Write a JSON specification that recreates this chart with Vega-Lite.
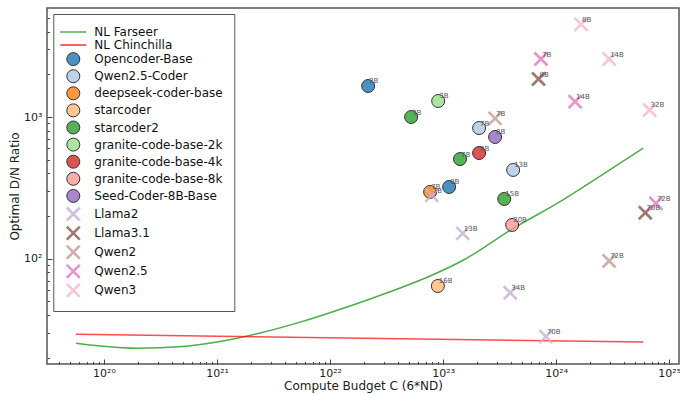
{
  "$schema": "https://vega.github.io/schema/vega-lite/v6.json",
  "width": 632,
  "height": 356,
  "autosize": "none",
  "padding": {"left": 47, "top": 8, "right": 1, "bottom": 30},
  "background": "white",
  "config": {
    "view": {"stroke": "#555", "strokeWidth": 1.5},
    "font": "DejaVu Sans",
    "axis": {
      "domain": false, "grid": false, "tickColor": "#444", "tickWidth": 1,
      "labelColor": "#222", "titleColor": "#222", "labelFont": "DejaVu Sans", "titleFont": "DejaVu Sans",
      "titleFontWeight": "normal", "labelFontSize": 11, "titleFontSize": 12
    },
    "legend": {
      "orient": "none", "legendX": 6.3, "legendY": 6, "padding": 11, "strokeColor": "#555", "fillColor": "white",
      "cornerRadius": 0, "labelFont": "DejaVu Sans", "labelFontSize": 12, "labelColor": "#111",
      "symbolSize": 169, "symbolStrokeWidth": 1, "symbolOpacity": 0.8, "rowPadding": -0.9,
      "labelOffset": 14, "symbolOffset": 2, "labelLimit": 300
    }
  },
  "datasets": {
    "farseer": [
      {"C": 5.65e19, "ratio": 25.3}, {"C": 9.23e19, "ratio": 24.2}, {"C": 1.96e20, "ratio": 23.3},
      {"C": 5.0e20, "ratio": 24.0}, {"C": 1.0e21, "ratio": 25.8}, {"C": 2.4e21, "ratio": 29.9},
      {"C": 5.43e21, "ratio": 35.7}, {"C": 1.18e22, "ratio": 43.5}, {"C": 2.26e22, "ratio": 52.0},
      {"C": 4.16e22, "ratio": 62.1}, {"C": 7.67e22, "ratio": 75.5}, {"C": 1.5e23, "ratio": 97.5},
      {"C": 4.08e23, "ratio": 162}, {"C": 1.13e24, "ratio": 258},
      {"C": 2.21e24, "ratio": 363}, {"C": 5.89e24, "ratio": 604}
    ],
    "chinchilla": [
      {"C": 5.65e19, "ratio": 29.3}, {"C": 5.89e24, "ratio": 25.8}
    ],
    "points": [
      {"series": "Opencoder-Base", "C": 2.17e22, "ratio": 1655, "label": "2B"},
      {"series": "Opencoder-Base", "C": 1.13e23, "ratio": 321, "label": "8B"},
      {"series": "Qwen2.5-Coder", "C": 2.08e23, "ratio": 836, "label": "7B"},
      {"series": "Qwen2.5-Coder", "C": 4.16e23, "ratio": 423, "label": "13B"},
      {"series": "deepseek-coder-base", "C": 7.67e22, "ratio": 296, "label": "7B"},
      {"series": "starcoder", "C": 8.98e22, "ratio": 64.2, "label": "16B"},
      {"series": "starcoder2", "C": 5.21e22, "ratio": 1000, "label": "3B"},
      {"series": "starcoder2", "C": 1.41e23, "ratio": 505, "label": "7B"},
      {"series": "starcoder2", "C": 3.47e23, "ratio": 264, "label": "15B"},
      {"series": "granite-code-base-2k", "C": 9.04e22, "ratio": 1297, "label": "3B"},
      {"series": "granite-code-base-4k", "C": 2.08e23, "ratio": 557, "label": "8B"},
      {"series": "granite-code-base-8k", "C": 4.08e23, "ratio": 173, "label": "20B"},
      {"series": "Seed-Coder-8B-Base", "C": 2.88e23, "ratio": 723, "label": "8B"},
      {"series": "Llama2", "C": 7.94e22, "ratio": 280, "label": "7B"},
      {"series": "Llama2", "C": 1.49e23, "ratio": 151, "label": "13B"},
      {"series": "Llama2", "C": 3.92e23, "ratio": 57.5, "label": "34B"},
      {"series": "Llama2", "C": 8.11e23, "ratio": 28.2, "label": "70B"},
      {"series": "Llama3.1", "C": 6.98e23, "ratio": 1854, "label": "8B"},
      {"series": "Llama3.1", "C": 6.14e24, "ratio": 211, "label": "70B"},
      {"series": "Qwen2", "C": 2.88e23, "ratio": 979, "label": "7B"},
      {"series": "Qwen2", "C": 2.94e24, "ratio": 96.4, "label": "72B"},
      {"series": "Qwen2.5", "C": 7.33e23, "ratio": 2566, "label": "7B"},
      {"series": "Qwen2.5", "C": 1.47e24, "ratio": 1283, "label": "14B"},
      {"series": "Qwen2.5", "C": 7.62e24, "ratio": 246, "label": "72B"},
      {"series": "Qwen3", "C": 1.66e24, "ratio": 4510, "label": "8B"},
      {"series": "Qwen3", "C": 2.94e24, "ratio": 2566, "label": "14B"},
      {"series": "Qwen3", "C": 6.7e24, "ratio": 1121, "label": "32B"}
    ]
  },
  "layer": [
    {
      "data": {"name": "farseer"},
      "mark": {"type": "line", "color": "#2ca02c", "opacity": 0.85, "strokeWidth": 1.5, "interpolate": "monotone"},
      "encoding": {
        "x": {
          "field": "C", "type": "quantitative",
          "scale": {"type": "log", "domain": [3.13e19, 1.22e25], "nice": false},
          "axis": {
            "title": "Compute Budget C (6*ND)",
            "values": [4e19,5e19,6e19,7e19,8e19,9e19,1e20,2e20,3e20,4e20,5e20,6e20,7e20,8e20,9e20,1e21,2e21,3e21,4e21,5e21,6e21,7e21,8e21,9e21,1e22,2e22,3e22,4e22,5e22,6e22,7e22,8e22,9e22,1e23,2e23,3e23,4e23,5e23,6e23,7e23,8e23,9e23,1e24,2e24,3e24,4e24,5e24,6e24,7e24,8e24,9e24,1e25],
            "labelExpr": "datum.value == 1e20 ? '10²⁰' : datum.value == 1e21 ? '10²¹' : datum.value == 1e22 ? '10²²' : datum.value == 1e23 ? '10²³' : datum.value == 1e24 ? '10²⁴' : datum.value == 1e25 ? '10²⁵' : ''",
            "tickSize": {"condition": {"test": "abs(log(datum.value)/LN10 - round(log(datum.value)/LN10)) < 0.001", "value": -5}, "value": -2.5},
            "labelPadding": 8,
            "labelFlush": false,
            "labelOverlap": false,
            "titlePadding": 0
          }
        },
        "y": {
          "field": "ratio", "type": "quantitative",
          "scale": {"type": "log", "domain": [18.07, 5878], "nice": false},
          "axis": {
            "title": "Optimal D/N Ratio",
            "values": [20,30,40,50,60,70,80,90,100,200,300,400,500,600,700,800,900,1000,2000,3000,4000,5000],
            "labelExpr": "datum.value == 100 ? '10²' : datum.value == 1000 ? '10³' : ''",
            "tickSize": {"condition": {"test": "abs(log(datum.value)/LN10 - round(log(datum.value)/LN10)) < 0.001", "value": -5}, "value": -2.5},
            "labelPadding": 10,
            "labelFlush": false,
            "labelOverlap": false,
            "titlePadding": 2
          }
        }
      }
    },
    {
      "data": {"name": "chinchilla"},
      "mark": {"type": "line", "color": "#ff0000", "opacity": 0.7, "strokeWidth": 1.5},
      "encoding": {
        "x": {"field": "C", "type": "quantitative"},
        "y": {"field": "ratio", "type": "quantitative"}
      }
    },
    {
      "data": {"name": "points"},
      "mark": {"type": "point", "filled": true, "opacity": 0.8, "size": 169, "strokeWidth": 1},
      "encoding": {
        "x": {"field": "C", "type": "quantitative"},
        "y": {"field": "ratio", "type": "quantitative"},
        "shape": {
          "field": "series", "type": "nominal", "title": null,
          "scale": {
            "domain": ["NL Farseer","NL Chinchilla","Opencoder-Base","Qwen2.5-Coder","deepseek-coder-base","starcoder","starcoder2","granite-code-base-2k","granite-code-base-4k","granite-code-base-8k","Seed-Coder-8B-Base","Llama2","Llama3.1","Qwen2","Qwen2.5","Qwen3"],
            "range": ["M-2,-0.12L2,-0.12L2,0.12L-2,0.12Z","M-2,-0.12L2,-0.12L2,0.12L-2,0.12Z","circle","circle","circle","circle","circle","circle","circle","circle","circle",
              "M-0.859,-1.141L1.141,0.859L0.859,1.141L-1.141,-0.859ZM-0.859,1.141L-1.141,0.859L0.859,-1.141L1.141,-0.859Z",
              "M-0.859,-1.141L1.141,0.859L0.859,1.141L-1.141,-0.859ZM-0.859,1.141L-1.141,0.859L0.859,-1.141L1.141,-0.859Z",
              "M-0.859,-1.141L1.141,0.859L0.859,1.141L-1.141,-0.859ZM-0.859,1.141L-1.141,0.859L0.859,-1.141L1.141,-0.859Z",
              "M-0.859,-1.141L1.141,0.859L0.859,1.141L-1.141,-0.859ZM-0.859,1.141L-1.141,0.859L0.859,-1.141L1.141,-0.859Z",
              "M-0.859,-1.141L1.141,0.859L0.859,1.141L-1.141,-0.859ZM-0.859,1.141L-1.141,0.859L0.859,-1.141L1.141,-0.859Z"]
          }
        },
        "fill": {
          "field": "series", "type": "nominal", "title": null,
          "scale": {
            "domain": ["NL Farseer","NL Chinchilla","Opencoder-Base","Qwen2.5-Coder","deepseek-coder-base","starcoder","starcoder2","granite-code-base-2k","granite-code-base-4k","granite-code-base-8k","Seed-Coder-8B-Base","Llama2","Llama3.1","Qwen2","Qwen2.5","Qwen3"],
            "range": ["#2ca02c","#ff0000","#1f77b4","#aec7e8","#ff7f0e","#ffbb78","#2ca02c","#98df8a","#d62728","#ff9896","#9467bd","#c5b0d5","#8c564b","#c49c94","#e377c2","#f7b6d2"]
          }
        },
        "stroke": {
          "field": "series", "type": "nominal", "title": null,
          "scale": {
            "domain": ["NL Farseer","NL Chinchilla","Opencoder-Base","Qwen2.5-Coder","deepseek-coder-base","starcoder","starcoder2","granite-code-base-2k","granite-code-base-4k","granite-code-base-8k","Seed-Coder-8B-Base","Llama2","Llama3.1","Qwen2","Qwen2.5","Qwen3"],
            "range": ["transparent","transparent","#000","#000","#000","#000","#000","#000","#000","#000","#000","transparent","transparent","transparent","transparent","transparent"]
          }
        }
      }
    },
    {
      "data": {"name": "points"},
      "mark": {"type": "text", "align": "left", "baseline": "middle", "dx": 1, "dy": -4.5, "fontSize": 7, "color": "#555", "font": "DejaVu Sans"},
      "encoding": {
        "x": {"field": "C", "type": "quantitative"},
        "y": {"field": "ratio", "type": "quantitative"},
        "text": {"field": "label"}
      }
    }
  ]
}
